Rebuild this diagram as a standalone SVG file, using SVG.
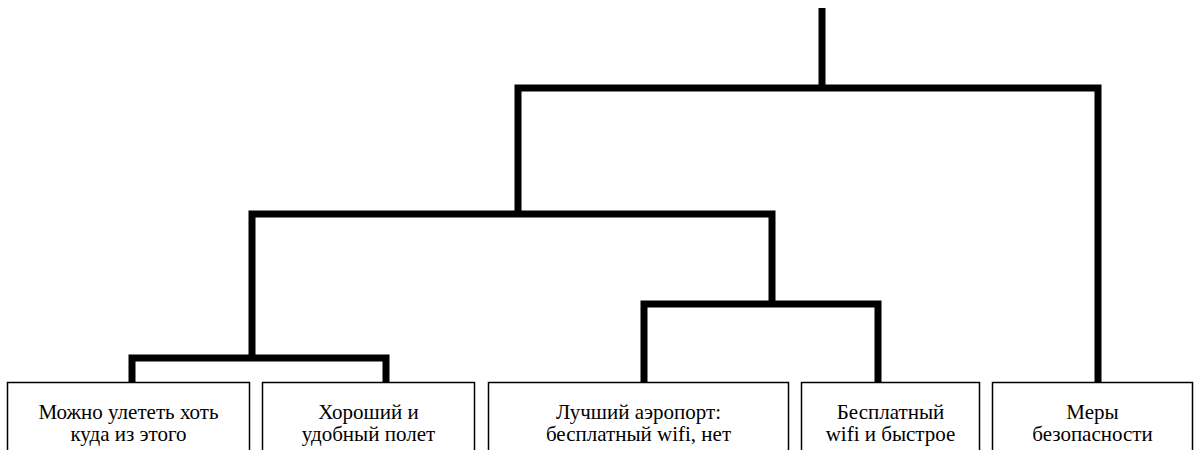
<svg xmlns="http://www.w3.org/2000/svg" width="1194" height="450" viewBox="0 0 1194 450">
  <style>
    .box { fill: #ffffff; stroke: #000000; stroke-width: 1.5; }
    .label { font-family: "Liberation Serif", "Times New Roman", serif; font-size: 21px; fill: #000000; text-anchor: middle; }
    .link { fill: none; stroke: #000000; stroke-width: 7; stroke-linejoin: miter; stroke-linecap: butt; }
  </style>
  <rect width="1194" height="450" fill="#ffffff"/>

  <!-- tree connectors -->
  <g id="connectors">
    <path class="link" d="M822,8 V88"/>
    <path class="link" d="M518,214 V88 H1098 V382"/>
    <path class="link" d="M252,358 V214 H772 V304"/>
    <path class="link" d="M132,382 V358 H386 V382"/>
    <path class="link" d="M644,382 V304 H878 V382"/>
  </g>

  <g id="node-fly-anywhere">
    <rect class="box" x="7.5" y="382.5" width="242" height="70"/>
    <text class="label" x="128.5" y="419">Можно улететь хоть</text>
    <text class="label" x="128.5" y="441">куда из этого</text>
  </g>

  <g id="node-comfortable-flight">
    <rect class="box" x="262.5" y="382.5" width="212" height="70"/>
    <text class="label" x="368.5" y="419">Хороший и</text>
    <text class="label" x="368.5" y="441">удобный полет</text>
  </g>

  <g id="node-best-airport">
    <rect class="box" x="488.5" y="382.5" width="300" height="70"/>
    <text class="label" x="638.5" y="419">Лучший аэропорт:</text>
    <text class="label" x="638.5" y="441">бесплатный wifi, нет</text>
  </g>

  <g id="node-free-wifi">
    <rect class="box" x="801.5" y="382.5" width="178" height="70"/>
    <text class="label" x="890.5" y="419">Бесплатный</text>
    <text class="label" x="890.5" y="441">wifi и быстрое</text>
  </g>

  <g id="node-security">
    <rect class="box" x="992.5" y="382.5" width="200" height="70"/>
    <text class="label" x="1092.5" y="419">Меры</text>
    <text class="label" x="1092.5" y="441">безопасности</text>
  </g>
</svg>
